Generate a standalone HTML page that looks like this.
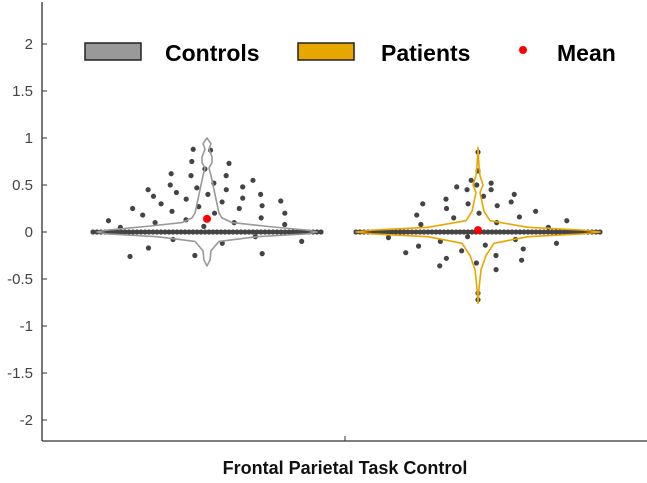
<!DOCTYPE html>
<html><head><meta charset="utf-8"><style>
html,body{margin:0;padding:0;background:#fff;}
svg{display:block;font-family:"Liberation Sans",sans-serif;}
</style></head><body>
<svg id="chart" width="647" height="483" viewBox="0 0 647 483" xmlns="http://www.w3.org/2000/svg"></svg>
<script>
const yTicks = [2,1.5,1,0.5,0,-0.5,-1,-1.5,-2];
const yTickLabels = ["2","1.5","1","0.5","0","-0.5","-1","-1.5","-2"];
const categoryLabel = "Frontal Parietal Task Control";
const groups = ["Controls","Patients"];
const controlsNonzero = [0.88,0.87,0.75,0.73,0.67,0.62,0.6,0.6,0.55,0.52,0.5,0.48,0.47,0.45,0.45,0.42,0.4,0.4,0.38,0.36,0.35,0.33,0.32,0.3,0.28,0.27,0.25,0.25,0.22,0.2,0.2,0.18,0.15,0.13,0.12,0.1,0.1,0.08,0.06,0.05,-0.05,-0.08,-0.1,-0.12,-0.17,-0.23,-0.25,-0.26];
const controlsZeroCount = 58;
const patientsNonzero = [0.85,0.65,0.55,0.52,0.5,0.48,0.45,0.45,0.4,0.38,0.35,0.32,0.3,0.3,0.28,0.25,0.22,0.2,0.18,0.16,0.15,0.12,0.1,0.08,0.05,-0.05,-0.06,-0.08,-0.1,-0.12,-0.14,-0.15,-0.18,-0.2,-0.22,-0.25,-0.28,-0.3,-0.33,-0.36,-0.4,-0.65,-0.72];
const patientsZeroCount = 62;
const controlsMean = 0.14;
const patientsMean = 0.02;
const controlsKdeY = [-0.36,-0.3,-0.2,-0.1,-0.05,-0.02,0,0.02,0.06,0.1,0.15,0.2,0.3,0.4,0.5,0.6,0.68,0.74,0.8,0.88,0.94,1.0];
const controlsKdeW = [0,3,4,12,50,100,110,100,60,25,15,12,10,8,6,4,2,5,5,2,4,0];
const patientsKdeY = [-0.76,-0.6,-0.4,-0.25,-0.12,-0.05,-0.02,0,0.02,0.05,0.12,0.22,0.32,0.42,0.5,0.6,0.7,0.9];
const patientsKdeW = [0,1,3,8,16,50,105,122,105,50,12,6,4,2,5,2,1,0];

const svg = document.getElementById('chart');
const NS = "http://www.w3.org/2000/svg";
const plotL = 42, plotR = 647, plotB = 441, plotT = 2;
const y0px = 232, unit = 94;
function yScale(v){ return y0px - v*unit; }
const groupCenters = [207, 478];
function mk(tag, attrs, parent){ const e=document.createElementNS(NS,tag); for(const k in attrs) e.setAttribute(k,attrs[k]); (parent||svg).appendChild(e); return e; }

const yAxis = mk('line',{x1:plotL,y1:plotT,x2:plotL,y2:plotB,stroke:'#333','stroke-width':1.3});


const xAxis = mk('line',{x1:plotL,y1:plotB,x2:plotR,y2:plotB,stroke:'#333','stroke-width':1.3});


const xTick = mk('line',{x1:345,y1:plotB,x2:345,y2:plotB-5,stroke:'#333','stroke-width':1});


yTicks.forEach((v,i)=>{
  const t = mk('line',{x1:plotL,y1:yScale(v),x2:plotL+5,y2:yScale(v),stroke:'#333','stroke-width':1});
  
  
  const l = mk('text',{x:33,y:yScale(v)+5,'text-anchor':'end','font-size':15,fill:'#444'});
  l.textContent = yTickLabels[i];
  
  
});
const xl = mk('text',{x:345,y:474,'text-anchor':'middle','font-size':18,'font-weight':'bold',fill:'#111'});
xl.textContent = categoryLabel;



function drawPoints(cx, nonzero, zeroCount, name, maxAbs){
  const g = mk('g',{});
  
  
  const sp = 4;
  for(let i=0;i<zeroCount;i++){
    const x = cx + (i-(zeroCount-1)/2)*sp;
    const c = mk('circle',{cx:x,cy:yScale(0),r:2.6,fill:'#444'},g);
    
    
  }
  nonzero.forEach((v,i)=>{
    const f = ((i*0.618034)%1)*2-1;
    const half = Math.max(0, 115*(1-Math.abs(v)/maxAbs));
    const x = cx + f*half;
    const c = mk('circle',{cx:x,cy:yScale(v),r:2.6,fill:'#444'},g);
    
    
  });
}
function drawViolin(cx, ky, kw, color, name){
  let d='';
  ky.forEach((v,i)=>{ d += (i?'L':'M')+(cx+kw[i])+','+yScale(v); });
  for(let i=ky.length-1;i>=0;i--){ d += 'L'+(cx-kw[i])+','+yScale(ky[i]); }
  d+='Z';
  const p = mk('path',{d:d,fill:'none',stroke:color,'stroke-width':1.6,'stroke-linejoin':'round'});
  
  
}
drawPoints(groupCenters[0], controlsNonzero, controlsZeroCount, 'controls', 1.0);
drawPoints(groupCenters[1], patientsNonzero, patientsZeroCount, 'patients', 0.62);
drawViolin(groupCenters[0], controlsKdeY, controlsKdeW, '#999', 'controls');
drawViolin(groupCenters[1], patientsKdeY, patientsKdeW, '#e8a600', 'patients');
const m1 = mk('circle',{cx:groupCenters[0],cy:yScale(controlsMean),r:4,fill:'#f00'});


const m2 = mk('circle',{cx:groupCenters[1],cy:yScale(patientsMean),r:4,fill:'#f00'});



const lg = mk('g',{});


const b1 = mk('rect',{x:85,y:43,width:56,height:17,fill:'#999',stroke:'#222','stroke-width':1.5},lg);


const t1 = mk('text',{x:165,y:61,'font-size':23,'font-weight':'bold',fill:'#000'},lg);
t1.textContent = groups[0];


const b2 = mk('rect',{x:298,y:43,width:56,height:17,fill:'#e8a600',stroke:'#222','stroke-width':1.5},lg);


const t2 = mk('text',{x:381,y:61,'font-size':23,'font-weight':'bold',fill:'#000'},lg);
t2.textContent = groups[1];


const b3 = mk('circle',{cx:523,cy:50,r:4,fill:'#f00'},lg);


const t3 = mk('text',{x:557,y:61,'font-size':23,'font-weight':'bold',fill:'#000'},lg);
t3.textContent = 'Mean';


</script>
</body></html>
